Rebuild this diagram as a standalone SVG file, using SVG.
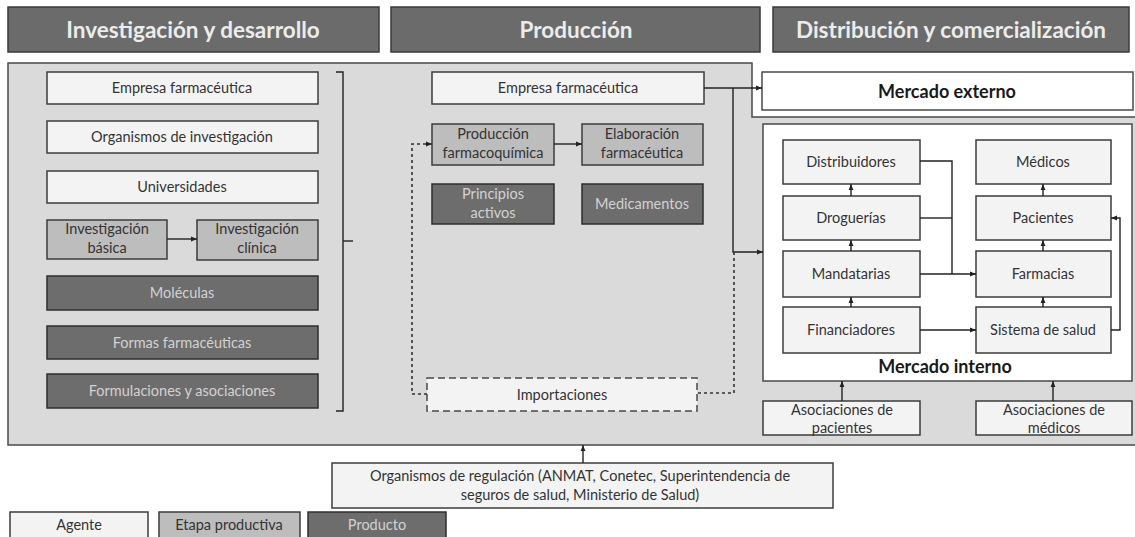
<svg xmlns="http://www.w3.org/2000/svg" width="1135" height="537" viewBox="0 0 1135 537">
  <style>
    .hdr { fill: #6b6b6b; stroke: #3a3a3a; stroke-width: 1.5; }
    .hdr-t { font-family: Lato, "Open Sans", sans-serif; font-weight: bold; font-size: 22.5px; fill: #ececec; text-anchor: middle; }
    .agent { fill: #f3f3f3; stroke: #3c3c3c; stroke-width: 1.5; }
    .stage { fill: #bdbdbd; stroke: #3c3c3c; stroke-width: 1.5; }
    .prod { fill: #6d6d6d; stroke: #2e2e2e; stroke-width: 1.5; }
    .market { fill: #ffffff; stroke: #4a4a4a; stroke-width: 1.5; }
    .imp { fill: #f3f3f3; stroke: #4a4a4a; stroke-width: 1.5; stroke-dasharray: 7 4; }
    .t { font-family: Lato, "Open Sans", sans-serif; font-size: 14.5px; fill: #333; text-anchor: middle; }
    .tl { font-family: Lato, "Open Sans", sans-serif; font-size: 14.5px; fill: #d2d2d2; text-anchor: middle; }
    .tb { font-family: Lato, "Open Sans", sans-serif; font-weight: bold; font-size: 18px; fill: #1a1a1a; text-anchor: middle; }
    .ln { fill: none; stroke: #222; stroke-width: 1.4; }
    .dot { fill: none; stroke: #333; stroke-width: 1.6; stroke-dasharray: 3 3; }
  </style>
  <defs>
    <marker id="arr" viewBox="0 0 10 10" refX="10" refY="5" markerWidth="6" markerHeight="6" markerUnits="userSpaceOnUse" orient="auto">
      <path d="M0,1 L10,5 L0,9 z" fill="#222"/>
    </marker>
  </defs>

  <rect width="1135" height="537" fill="#ffffff"/>

  <!-- stage headers -->
  <g id="hdr-id">
    <rect class="hdr" x="8" y="7" width="371" height="45"/>
    <text class="hdr-t" x="193" y="38">Investigación y desarrollo</text>
  </g>
  <g id="hdr-prod">
    <rect class="hdr" x="391" y="7" width="369" height="45"/>
    <text class="hdr-t" x="576" y="38">Producción</text>
  </g>
  <g id="hdr-dist">
    <rect class="hdr" x="773" y="7" width="356" height="45"/>
    <text class="hdr-t" x="951" y="38">Distribución y comercialización</text>
  </g>

  <!-- background panel -->
  <g id="panel">
    <path d="M8,63 H752 V117 H1137 V445 H8 Z" fill="#dadada" stroke="#4a4a4a" stroke-width="1.5"/>
  </g>

  <!-- research & development column -->
  <g id="rd-empresa">
    <rect class="agent" x="47" y="72" width="271" height="32"/>
    <text class="t" x="182" y="93">Empresa farmacéutica</text>
  </g>
  <g id="rd-organismos">
    <rect class="agent" x="47" y="121" width="271" height="32"/>
    <text class="t" x="182" y="142">Organismos de investigación</text>
  </g>
  <g id="rd-universidades">
    <rect class="agent" x="47" y="171" width="271" height="32"/>
    <text class="t" x="182" y="192">Universidades</text>
  </g>
  <g id="inv-basica">
    <rect class="stage" x="47" y="220" width="120" height="39"/>
    <text class="t" x="107" y="234">Investigación</text>
    <text class="t" x="107" y="253">básica</text>
  </g>
  <g id="inv-clinica">
    <rect class="stage" x="197" y="220" width="121" height="40"/>
    <text class="t" x="257" y="234">Investigación</text>
    <text class="t" x="257" y="253">clínica</text>
  </g>
  <g id="moleculas">
    <rect class="prod" x="47" y="276" width="271" height="34"/>
    <text class="tl" x="182" y="298">Moléculas</text>
  </g>
  <g id="formas">
    <rect class="prod" x="47" y="326" width="271" height="33"/>
    <text class="tl" x="182" y="348">Formas farmacéuticas</text>
  </g>
  <g id="formulaciones">
    <rect class="prod" x="47" y="374" width="271" height="34"/>
    <text class="tl" x="182" y="396">Formulaciones y asociaciones</text>
  </g>

  <!-- production column -->
  <g id="prod-empresa">
    <rect class="agent" x="432" y="72" width="272" height="32"/>
    <text class="t" x="568" y="93">Empresa farmacéutica</text>
  </g>
  <g id="farmacoquimica">
    <rect class="stage" x="432" y="124" width="122" height="41"/>
    <text class="t" x="493" y="139">Producción</text>
    <text class="t" x="493" y="158">farmacoquímica</text>
  </g>
  <g id="elaboracion">
    <rect class="stage" x="582" y="124" width="121" height="41"/>
    <text class="t" x="642" y="139">Elaboración</text>
    <text class="t" x="642" y="158">farmacéutica</text>
  </g>
  <g id="principios">
    <rect class="prod" x="432" y="184" width="122" height="40"/>
    <text class="tl" x="493" y="199">Principios</text>
    <text class="tl" x="493" y="218">activos</text>
  </g>
  <g id="medicamentos">
    <rect class="prod" x="582" y="184" width="121" height="40"/>
    <text class="tl" x="642" y="209">Medicamentos</text>
  </g>
  <g id="importaciones">
    <rect class="imp" x="427" y="378" width="270" height="33"/>
    <text class="t" x="562" y="400">Importaciones</text>
  </g>

  <!-- markets -->
  <g id="mercado-externo">
    <rect class="market" x="762" y="72" width="371" height="38"/>
    <text class="tb" x="947" y="98">Mercado externo</text>
  </g>
  <g id="mercado-interno">
    <rect class="market" x="763" y="124" width="369" height="257"/>
    <text class="tb" x="945" y="373">Mercado interno</text>
  </g>
  <g id="distribuidores">
    <rect class="agent" x="783" y="140" width="137" height="44"/>
    <text class="t" x="851" y="167">Distribuidores</text>
  </g>
  <g id="droguerias">
    <rect class="agent" x="783" y="196" width="137" height="44"/>
    <text class="t" x="851" y="223">Droguerías</text>
  </g>
  <g id="mandatarias">
    <rect class="agent" x="783" y="251" width="137" height="46"/>
    <text class="t" x="851" y="279">Mandatarias</text>
  </g>
  <g id="financiadores">
    <rect class="agent" x="783" y="307" width="137" height="46"/>
    <text class="t" x="851" y="335">Financiadores</text>
  </g>
  <g id="medicos">
    <rect class="agent" x="976" y="140" width="135" height="44"/>
    <text class="t" x="1043" y="167">Médicos</text>
  </g>
  <g id="pacientes">
    <rect class="agent" x="976" y="196" width="135" height="44"/>
    <text class="t" x="1043" y="223">Pacientes</text>
  </g>
  <g id="farmacias">
    <rect class="agent" x="976" y="251" width="135" height="46"/>
    <text class="t" x="1043" y="279">Farmacias</text>
  </g>
  <g id="sistema-salud">
    <rect class="agent" x="976" y="307" width="135" height="46"/>
    <text class="t" x="1043" y="335">Sistema de salud</text>
  </g>
  <g id="asoc-pacientes">
    <rect class="agent" x="763" y="401" width="157" height="34"/>
    <text class="t" x="842" y="415">Asociaciones de</text>
    <text class="t" x="842" y="433">pacientes</text>
  </g>
  <g id="asoc-medicos">
    <rect class="agent" x="976" y="401" width="156" height="34"/>
    <text class="t" x="1054" y="415">Asociaciones de</text>
    <text class="t" x="1054" y="433">médicos</text>
  </g>

  <!-- regulators -->
  <g id="regulacion">
    <rect class="agent" x="332" y="463" width="501" height="45"/>
    <text class="t" x="580" y="481">Organismos de regulación (ANMAT, Conetec, Superintendencia de</text>
    <text class="t" x="580" y="500">seguros de salud, Ministerio de Salud)</text>
  </g>

  <!-- legend -->
  <g id="legend-agente">
    <rect class="agent" x="10" y="512" width="138" height="30"/>
    <text class="t" x="79" y="530">Agente</text>
  </g>
  <g id="legend-etapa">
    <rect class="stage" x="159" y="512" width="141" height="30"/>
    <text class="t" x="229" y="530">Etapa productiva</text>
  </g>
  <g id="legend-producto">
    <rect class="prod" x="308" y="512" width="138" height="30"/>
    <text class="tl" x="377" y="530">Producto</text>
  </g>

  <!-- connectors -->
  <g id="connectors">
    <!-- R&D bracket -->
    <path class="ln" d="M336,72 H343 V411 H336"/>
    <path class="ln" d="M343,241 H353"/>
    <path class="ln" d="M167,239 H197" marker-end="url(#arr)"/>
    <!-- production -->
    <path class="ln" d="M554,144 H582" marker-end="url(#arr)"/>
    <path class="ln" d="M704,88 H762" marker-end="url(#arr)"/>
    <path class="ln" d="M733,88 V252 H763" marker-end="url(#arr)"/>
    <path class="dot" d="M734,252 V393 H697"/>
    <path class="dot" d="M427,394 H412 V144 H432" marker-end="url(#arr)"/>
    <!-- domestic market flows -->
    <path class="ln" d="M920,161 H952 V274"/>
    <path class="ln" d="M920,218 H952"/>
    <path class="ln" d="M920,274 H976" marker-end="url(#arr)"/>
    <path class="ln" d="M920,330 H976" marker-end="url(#arr)"/>
    <path class="ln" d="M1111,330 H1120 V218 H1111" marker-end="url(#arr)"/>
    <path class="ln" d="M851,196 V184" marker-end="url(#arr)"/>
    <path class="ln" d="M851,251 V240" marker-end="url(#arr)"/>
    <path class="ln" d="M851,307 V297" marker-end="url(#arr)"/>
    <path class="ln" d="M1043,196 V184" marker-end="url(#arr)"/>
    <path class="ln" d="M1043,251 V240" marker-end="url(#arr)"/>
    <path class="ln" d="M1043,307 V297" marker-end="url(#arr)"/>
    <!-- associations and regulators -->
    <path class="ln" d="M842,401 V381" marker-end="url(#arr)"/>
    <path class="ln" d="M1053,401 V381" marker-end="url(#arr)"/>
    <path class="ln" d="M583,463 V445" marker-end="url(#arr)"/>
  </g>
</svg>
